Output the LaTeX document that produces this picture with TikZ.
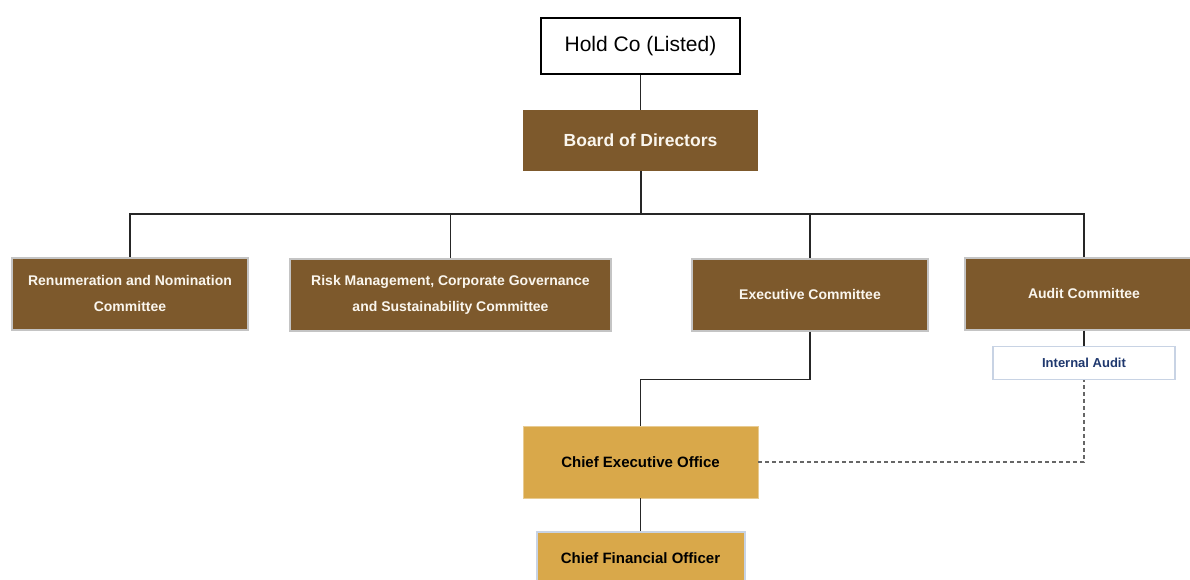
\documentclass[tikz,border=0pt]{standalone}
\usepackage{fontspec}
\setmainfont{Liberation Sans}
\definecolor{brownbox}{RGB}{125,89,44}
\definecolor{goldbox}{RGB}{217,168,74}
\definecolor{greyedge}{RGB}{196,196,196}
\definecolor{blueedge}{RGB}{200,211,228}
\definecolor{navytext}{RGB}{31,56,110}
\definecolor{lighttext}{RGB}{250,246,238}
\begin{document}
\begin{tikzpicture}[x=1pt,y=-1pt,
  every node/.style={inner sep=0pt, align=center},
  topbox/.style={draw=black, line width=2pt, fill=white,
    font=\fontsize{21}{24}\selectfont},
  boardbox/.style={fill=brownbox, text=lighttext,
    font=\bfseries\fontsize{17.5}{20}\selectfont},
  combox/.style={fill=brownbox, draw=greyedge, line width=2pt, text=lighttext,
    font=\bfseries\fontsize{14}{25.5}\selectfont},
  auditbox/.style={fill=white, draw=blueedge, line width=1.8pt, text=navytext,
    font=\bfseries\fontsize{13}{15}\selectfont},
  execbox/.style={fill=goldbox, draw=goldbox!60!white, line width=0.8pt, text=black,
    font=\bfseries\fontsize{15}{18}\selectfont},
  finbox/.style={fill=goldbox, draw=blueedge, line width=2pt, text=black,
    font=\bfseries\fontsize{15}{18}\selectfont},
  link/.style={draw=black!85, line width=1.3pt},
  dotlink/.style={draw=black!60, line width=1.5pt, dash pattern=on 4pt off 3pt}
]
\useasboundingbox (0,0) rectangle (1190,579);
\clip (0,0) rectangle (1190,579);

% top of the structure
\node[topbox, minimum width=199pt, minimum height=56pt] (hold) at (640.5,46) {Hold Co (Listed)};
\node[boardbox, minimum width=235pt, minimum height=61pt] (board) at (640.5,140.5) {Board of Directors};

% board committees
\node[combox, minimum width=236pt, minimum height=72pt] (remu) at (130,293.5)
  {Renumeration and Nomination\\Committee};
\node[combox, minimum width=321pt, minimum height=72pt] (risk) at (450.5,295)
  {Risk Management, Corporate Governance\\and Sustainability Committee};
\node[combox, minimum width=236pt, minimum height=72pt] (exco) at (810,294.5)
  {Executive Committee};
\node[combox, minimum width=238pt, minimum height=72pt] (audc) at (1084,293.5)
  {Audit Committee};

% reporting units
\node[auditbox, minimum width=182pt, minimum height=33pt] (ia) at (1084,363) {Internal Audit};
\node[execbox, minimum width=235pt, minimum height=72pt] (ceo) at (640.5,462) {Chief Executive Office};
\node[finbox, minimum width=208pt, minimum height=52pt] (cfo) at (640.5,558) {Chief Financial Officer};

% connectors
\coordinate (bus) at (640.5,214);
\draw[link] (hold.south) -- (board.north);
\draw[link, line width=2pt] (board.south) -- (bus);
\draw[link] (remu.north) -- (remu.north |- bus) -- (audc.north |- bus) -- (audc.north);
\draw[link] (risk.north) -- (risk.north |- bus);
\draw[link] (exco.north) -- (exco.north |- bus);
\draw[link] (audc.south) -- (ia.north);
\draw[link] (exco.south) -- ++(0,48) -| (ceo.north);
\draw[link] (ceo.south) -- (cfo.north);
\draw[dotlink] (ceo.east) -| (ia.south);
\end{tikzpicture}
\end{document}
